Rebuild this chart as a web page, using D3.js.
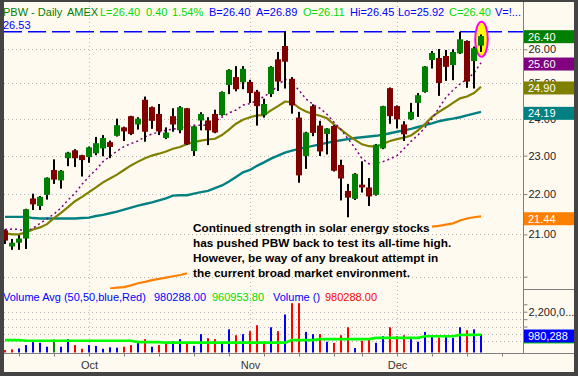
<!DOCTYPE html>
<html><head><meta charset="utf-8">
<script src="https://cdn.jsdelivr.net/npm/d3@7"></script>
<style>html,body{margin:0;padding:0;background:#444;}svg{display:block;}</style>
</head><body><svg id="c" width="578" height="376"></svg>
<script>
// ---------------- DATA ----------------
const dates = ["2007-09-13","2007-09-14","2007-09-17","2007-09-18","2007-09-19","2007-09-20","2007-09-21","2007-09-24","2007-09-25","2007-09-26","2007-09-27","2007-09-28",
"2007-10-01","2007-10-02","2007-10-03","2007-10-04","2007-10-05","2007-10-08","2007-10-09","2007-10-10","2007-10-11","2007-10-12","2007-10-15","2007-10-16","2007-10-17","2007-10-18","2007-10-19","2007-10-22","2007-10-23","2007-10-24","2007-10-25","2007-10-26","2007-10-29","2007-10-30","2007-10-31",
"2007-11-01","2007-11-02","2007-11-05","2007-11-06","2007-11-07","2007-11-08","2007-11-09","2007-11-12","2007-11-13","2007-11-14","2007-11-15","2007-11-16","2007-11-19","2007-11-20","2007-11-21","2007-11-23","2007-11-26","2007-11-27","2007-11-28","2007-11-29","2007-11-30",
"2007-12-03","2007-12-04","2007-12-05","2007-12-06","2007-12-07","2007-12-10","2007-12-11","2007-12-12","2007-12-13","2007-12-14","2007-12-17","2007-12-18","2007-12-19"];

const open  = [21.10,20.71,20.80,20.90,21.89,21.70,21.98,22.62,22.35,22.93,23.14,23.01,22.96,23.06,23.19,23.36,23.53,23.76,24.07,23.84,24.53,24.32,24.13,23.47,24.07,23.68,24.29,23.12,23.95,23.95,24.13,24.10,24.95,25.18,25.03,25.04,24.76,24.10,24.69,25.70,26.10,25.13,24.03,22.99,24.35,23.81,23.58,23.80,22.75,22.08,21.88,22.24,22.17,21.98,23.19,24.86,24.35,23.84,23.98,24.44,24.75,25.68,25.74,25.80,25.53,25.88,26.25,25.65,26.11];
const high  = [21.12,20.89,20.98,21.63,22.01,21.95,22.43,22.90,22.62,23.10,23.17,23.02,23.24,23.50,23.55,23.40,24.00,23.78,24.08,24.04,24.62,24.34,24.41,23.76,24.29,24.35,24.30,23.80,24.18,24.04,24.25,24.77,25.41,25.50,25.50,25.10,24.81,24.56,25.50,25.92,26.53,25.18,24.19,23.64,24.40,23.94,23.74,23.82,22.89,22.26,22.54,22.85,22.41,23.31,24.36,24.88,24.37,23.93,24.44,24.72,25.50,25.95,26.01,25.98,26.00,26.53,26.27,26.08,26.45];
const low   = [20.77,20.63,20.63,20.65,21.60,21.60,21.86,22.26,22.14,22.72,22.70,22.45,22.81,23.01,22.98,22.93,23.51,23.39,23.55,23.70,23.37,23.72,23.55,23.44,23.64,23.60,23.28,22.99,23.68,23.28,23.60,24.08,24.69,24.77,24.83,24.44,23.81,24.03,24.61,24.78,24.85,24.14,22.29,22.65,23.52,22.99,23.03,22.58,21.84,21.42,21.85,22.04,21.70,21.96,23.17,23.86,23.73,23.39,23.96,24.05,24.73,25.43,24.64,25.07,25.09,25.86,24.87,24.85,25.92];
const close = [20.85,20.80,20.90,21.62,21.74,21.93,22.42,22.37,22.60,23.08,22.93,22.88,23.22,23.33,23.47,23.23,23.82,23.65,23.58,24.00,23.64,23.94,23.65,23.62,23.84,24.32,23.30,23.79,24.13,23.68,23.62,24.75,25.39,24.83,25.42,24.72,24.35,24.41,25.48,25.05,25.63,24.37,22.48,23.62,23.61,23.11,23.73,22.60,22.40,21.91,22.52,22.17,21.94,23.29,24.35,24.07,23.98,23.57,24.19,24.66,25.49,25.89,25.01,25.48,25.92,26.30,25.05,26.03,26.40];

const ma10 = [21.12,21.13,21.12,21.08,21.15,21.27,21.38,21.50,21.65,21.85,22.02,22.25,22.45,22.63,22.84,22.98,23.12,23.24,23.32,23.39,23.50,23.58,23.63,23.68,23.71,23.74,23.79,23.82,23.82,23.82,23.92,24.04,24.16,24.24,24.38,24.42,24.51,24.62,24.75,24.94,25.12,25.02,24.80,24.55,24.40,24.29,24.12,23.90,23.70,23.45,23.20,22.92,22.78,22.79,22.84,22.91,23.00,23.18,23.38,23.55,23.75,24.00,24.30,24.60,24.80,24.98,25.12,25.30,25.60];
const ma20 = [21.03,21.00,21.00,21.05,21.12,21.17,21.25,21.40,21.53,21.67,21.82,21.93,22.05,22.17,22.30,22.40,22.50,22.62,22.74,22.84,22.93,23.00,23.05,23.11,23.18,23.23,23.31,23.36,23.40,23.43,23.45,23.55,23.70,23.86,23.97,24.04,24.09,24.10,24.23,24.35,24.48,24.46,24.30,24.20,24.13,24.08,24.01,23.84,23.70,23.55,23.42,23.30,23.25,23.24,23.31,23.39,23.44,23.48,23.54,23.68,23.85,24.05,24.19,24.31,24.44,24.57,24.62,24.72,24.90];
const ma50 = [21.43,21.43,21.43,21.43,21.40,21.39,21.39,21.39,21.39,21.39,21.39,21.40,21.41,21.45,21.48,21.52,21.56,21.61,21.66,21.71,21.75,21.79,21.84,21.89,21.96,21.97,21.97,22.01,22.05,22.08,22.15,22.22,22.32,22.44,22.56,22.62,22.73,22.82,22.92,23.00,23.08,23.13,23.18,23.22,23.26,23.30,23.34,23.38,23.41,23.44,23.47,23.49,23.51,23.53,23.56,23.60,23.64,23.68,23.72,23.77,23.82,23.87,23.93,23.97,24.00,24.04,24.09,24.14,24.19];
// 200-day average: only the parts visible around the annotation are given
const ma200 = [null,null,null,null,null,null,null,null,null,null,null,null,null,null,null,19.73,19.75,19.76,19.80,19.85,19.88,19.92,19.95,19.98,20.01,20.04,20.08,
null,null,null,null,null,null,null,null,null,null,null,null,null,null,null,null,null,null,null,null,null,null,null,null,null,null,null,null,null,null,null,null,null,null,
21.19,21.21,21.24,21.27,21.34,21.39,21.42,21.44];

const volume = [130000,170000,220000,400000,560000,520000,310000,700000,310000,720000,400000,200000,400000,350000,200000,280000,260000,310000,400000,520000,720000,310000,400000,490000,610000,720000,560000,360000,990000,770000,720000,520000,1250000,930000,990000,1150000,1470000,560000,1360000,1150000,2050000,2660000,2660000,1110000,990000,990000,580000,520000,930000,1360000,240000,630000,700000,520000,880000,1360000,880000,930000,790000,580000,1110000,930000,810000,930000,790000,1360000,1200000,1250000,980288];
const volDir = ["dn","dn","up","up","up","up","up","eq","up","up","dn","dn","up","up","up","up","up","dn","dn","up","dn","up","dn","dn","up","up","dn","up","up","dn","dn","up","up","dn","up","dn","dn","dn","up","dn","up","dn","dn","up","up","dn","up","dn","dn","dn","up","dn","dn","up","up","dn","dn","dn","up","up","up","up","dn","up","up","up","dn","up","up"];
const volAvg = [670000,670000,670000,630000,630000,630000,630000,630000,630000,630000,630000,630000,630000,630000,630000,630000,630000,630000,630000,560000,560000,560000,560000,530000,530000,530000,530000,530000,530000,530000,530000,530000,530000,530000,530000,530000,530000,530000,530000,530000,530000,670000,670000,670000,670000,720000,720000,720000,720000,720000,720000,720000,720000,790000,790000,790000,790000,790000,790000,790000,880000,880000,880000,880000,880000,950000,950000,950000,960953.8];

const priceTicks = [26,25,24,23,22,21,20];
const priceTickLabels = ["26.00","25.00","24.00","23.00","22.00","21.00",""];
const volTicks = [2600000,2200000,1800000,1400000];
const volTickLabels = ["","2,200,0...","",""];
const volGrid = [2200000,1800000,1400000,1000000,600000];
const weekTickIdx = [2,7,12,17,22,27,32,37,42,47,51,56,61,66,71];
const monthIdx = [12,35,56];
const monthLabels = ["Oct","Nov","Dec"];
const allTimeHigh = 26.53;
const header = ["PBW - Daily","AMEX","L=26.40","0.40","1.54%","B=26.40","A=26.89","O=26.11","Hi=26.45","Lo=25.92","C=26.40","V=!..."];
const volLegend = ["Volume Avg (50,50,blue,Red)","980288.00","960953.80","Volume ()","980288.00"];
const note = ["Continued strength in solar energy stocks","has pushed PBW back to test its all-time high.","However, be way of any breakout attempt in","the current broad market environment."];

// ---------------- LAYOUT ----------------
const W=578,H=376, L=4, R=523, T=2, PB=289, VB=353, RB=574, BB=372;
const FONT = "'Liberation Sans', Arial, sans-serif";
const svg = d3.select("#c");
svg.append("rect").attr("width",W).attr("height",H).attr("fill","#444");
svg.append("rect").attr("x",L).attr("y",T).attr("width",RB-L).attr("height",BB-T).attr("fill","#fffaf0");

const x = d3.scaleLinear().domain([0,68]).range([5,481]);
const y = d3.scaleLog().domain([20,26]).range([276.7,49.3]);
const yv = d3.scaleLinear().domain([0,2200000]).range([352.5,311.7]);

const defs = svg.append("defs");
defs.append("clipPath").attr("id","cp").append("rect").attr("x",L).attr("y",T).attr("width",R-L).attr("height",PB-T);
defs.append("clipPath").attr("id","cv").append("rect").attr("x",L).attr("y",PB).attr("width",R-L).attr("height",VB-PB);

const grid = svg.append("g").attr("stroke","#b4b4b4").attr("stroke-dasharray","1,3").attr("stroke-width",1);
priceTicks.forEach(p=>{ const yy=Math.round(y(p))+0.5; grid.append("line").attr("x1",L).attr("x2",R).attr("y1",yy).attr("y2",yy); });
volGrid.forEach(v=>{ const yy=Math.round(yv(v))+0.5; grid.append("line").attr("x1",L).attr("x2",R).attr("y1",yy).attr("y2",yy); });
monthIdx.forEach(i=>{ const xx=x(i)+0.5; grid.append("line").attr("x1",xx).attr("x2",xx).attr("y1",T).attr("y2",VB); });

// price panel
const gp = svg.append("g").attr("clip-path","url(#cp)");
gp.append("line").attr("x1",L).attr("x2",R).attr("y1",y(allTimeHigh)).attr("y2",y(allTimeHigh))
  .attr("stroke","#0000ff").attr("stroke-width",1.4).attr("stroke-dasharray","18,6");

const idx = d3.range(close.length);
function ma(arr,color,w,dash){
  const line = d3.line().defined(i=>arr[i]!=null).x(i=>x(i)).y(i=>y(arr[i]));
  const p = gp.append("path").attr("d",line(idx)).attr("fill","none").attr("stroke",color).attr("stroke-width",w);
  if(dash) p.attr("stroke-dasharray",dash);
}
ma(ma200,"#ff8000",2.2);
ma(ma50,"#008080",2.4);
ma(ma20,"#808000",2.2);
ma(ma10,"#800080",1.5,"2,3");

// highlight ellipse on last bar
const last = close.length-1;
gp.append("ellipse").attr("cx",x(last)+0.5).attr("cy",(y(high[last])+y(low[last]))/2-4).attr("rx",6.3).attr("ry",17.5)
  .attr("fill","#ffff00").attr("stroke","#ff00ff").attr("stroke-width",2);

const cg = gp.append("g");
idx.forEach(i=>{
  const xc = x(i);
  cg.append("rect").attr("x",xc-1).attr("width",2).attr("y",y(high[i])).attr("height",Math.max(1,y(low[i])-y(high[i]))).attr("fill","#000");
  const top = y(Math.max(open[i],close[i])), bot = y(Math.min(open[i],close[i]));
  cg.append("rect").attr("x",xc-3).attr("width",6).attr("y",top).attr("height",Math.max(1.5,bot-top))
    .attr("fill", close[i]>=open[i] ? "#008000" : "#800000");
});

// annotation
const ng = svg.append("g").attr("font-family",FONT).attr("font-weight","bold").attr("fill","#000");
const nt = note.map((s,k)=>ng.append("text").attr("x",193).attr("y",231.5+k*15).attr("font-size",12).text(s));
const w0 = nt[0].node().getComputedTextLength();
const fs = 12*237/w0;
nt.forEach(t=>t.attr("font-size",fs.toFixed(2)));

// volume panel
const gv = svg.append("g").attr("clip-path","url(#cv)");
const volColor = {up:"#0000ff",dn:"#ff0000",eq:"#008000"};
idx.forEach(i=>{
  gv.append("rect").attr("x",x(i)-1).attr("width",2).attr("y",yv(volume[i])).attr("height",yv(0)-yv(volume[i])).attr("fill",volColor[volDir[i]]);
});
gv.append("path").attr("d",d3.line().x(i=>x(i)).y(i=>yv(volAvg[i]))(idx)).attr("fill","none").attr("stroke","#00ff00").attr("stroke-width",2.6);

// axes frame
const frame = svg.append("g").attr("stroke","#808080").attr("stroke-width",1);
frame.append("line").attr("x1",R+0.5).attr("x2",R+0.5).attr("y1",T).attr("y2",VB);
frame.append("line").attr("x1",R).attr("x2",RB).attr("y1",PB+0.5).attr("y2",PB+0.5);
frame.append("line").attr("x1",L).attr("x2",RB).attr("y1",VB+0.5).attr("y2",VB+0.5);

function styleAxis(g){
  g.select(".domain").remove();
  g.selectAll("line").attr("stroke","#808080");
  g.selectAll("text").attr("font-family",FONT).attr("font-size",11).attr("fill","#222");
}
const ay = svg.append("g").attr("transform",`translate(${R+0.5},0)`)
  .call(d3.axisRight(y).tickValues(priceTicks).tickSize(4).tickPadding(1).tickFormat((d,i)=>priceTickLabels[i]));
styleAxis(ay);
const av = svg.append("g").attr("transform",`translate(${R+0.5},0)`)
  .call(d3.axisRight(yv).tickValues(volTicks).tickSize(4).tickPadding(1).tickFormat((d,i)=>volTickLabels[i]));
styleAxis(av);
const ax = svg.append("g").attr("transform",`translate(0,${VB+0.5})`)
  .call(d3.axisBottom(x).tickValues(weekTickIdx).tickSize(3).tickFormat(""));
styleAxis(ax);
const am = svg.append("g").attr("transform",`translate(0,${VB+0.5})`)
  .call(d3.axisBottom(x).tickValues(monthIdx).tickSize(0).tickPadding(7.5).tickFormat((d,i)=>monthLabels[i]));
styleAxis(am);
am.selectAll("text").attr("fill","#333");

// value boxes on the right axis
function box(v, label, color, yy){
  svg.append("rect").attr("x",R+1).attr("y",yy-6.5).attr("width",RB-R-1).attr("height",13).attr("fill",color);
  svg.append("text").attr("x",R+5).attr("y",yy).attr("dy","0.36em").attr("font-family",FONT).attr("font-size",11).attr("fill","#fff").text(label);
}
box(close[last], close[last].toFixed(2), "#008000", y(close[last])+0.6);
box(ma10[last], ma10[last].toFixed(2), "#800080", y(ma10[last])+1.3);
box(ma20[last], ma20[last].toFixed(2), "#808000", y(ma20[last])+1.2);
box(ma50[last], ma50[last].toFixed(2), "#008080", y(ma50[last])+1.5);
box(ma200[last], ma200[last].toFixed(2), "#ff8000", y(ma200[last])+2.3);
svg.append("rect").attr("x",R+1).attr("y",yv(volAvg[last])-4.2).attr("width",RB-R-1).attr("height",13).attr("fill","#00d000");
box(volume[last], d3.format(",")(volume[last]), "#0000ff", yv(volume[last])+1.7);

// header texts
const headerX = [3,67,100,146,172,209,256,303,350,398,449,495];
const headerC = ["#008000","#008000","#00dd00","#00dd00","#00dd00","#0000ff","#0000ff","#00dd00","#0000ff","#0000ff","#00dd00","#0000ff"];
const hg = svg.append("g").attr("font-family",FONT).attr("font-size",11);
header.forEach((s,i)=>hg.append("text").attr("x",headerX[i]).attr("y",16).attr("fill",headerC[i]).text(s));
hg.append("text").attr("x",3).attr("y",29).attr("fill","#0000ff").text(allTimeHigh.toFixed(2));

const vlX = [3,154,212,273,325];
const vlC = ["#0000ff","#0000ff","#00dd00","#0000ff","#ff0000"];
volLegend.forEach((s,i)=>hg.append("text").attr("x",vlX[i]).attr("y",300.5).attr("fill",vlC[i]).text(s));
</script></body></html>
